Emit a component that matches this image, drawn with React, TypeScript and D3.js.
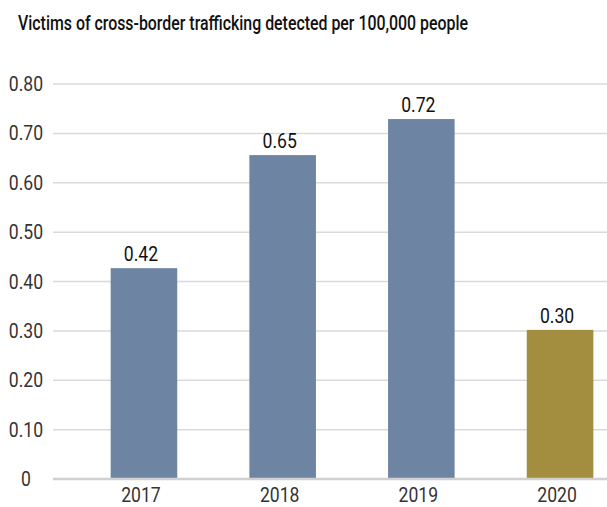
import React, { useLayoutEffect, useRef, useState } from "react";
import * as d3 from "d3";

const categories = ["2017", "2018", "2019", "2020"];
const values = [0.427, 0.656, 0.729, 0.302];
const valueLabels = ["0.42", "0.65", "0.72", "0.30"];
const yTicks = [0, 0.1, 0.2, 0.3, 0.4, 0.5, 0.6, 0.7, 0.8];
const barColors = ["#6e84a3", "#6e84a3", "#6e84a3", "#a38d3f"];
const title = "Victims of cross-border trafficking detected per 100,000 people";

const W = 607;
const H = 507;
const FONT = "Roboto, 'Noto Sans', sans-serif";

function CText({ x, y, anchor = "middle", sx = 0.88, size = 20, fill = "#333", children, weight = 400 }: any) {
  return (
    <text
      transform={`translate(${x},${y}) scale(${sx},1)`}
      textAnchor={anchor}
      fontSize={size}
      fontFamily={FONT}
      fill={fill}
      fontWeight={weight}
    >
      {children}
    </text>
  );
}

export default function App() {
  const titleRef = useRef<SVGTextElement>(null);
  const [titleScale, setTitleScale] = useState(0.75);
  useLayoutEffect(() => {
    if (titleRef.current) {
      const w = titleRef.current.getComputedTextLength();
      if (w > 0) setTitleScale(450 / w);
    }
  }, []);
  const y = d3.scaleLinear().domain([0, 0.8]).range([479, 84]);
  const x = d3.scaleBand<string>().domain(categories).range([74.6, 629.4]).paddingInner(0.52).paddingOuter(0.26);
  const bw = x.bandwidth();
  const fmt = (v: number) => (v === 0 ? "0" : d3.format(".2f")(v));
  return (
    <svg width={W} height={H} style={{ position: "absolute", left: 0, top: 0, background: "#fff" }}>
      <text
        ref={titleRef}
        transform={`translate(18,30) scale(${titleScale},1)`}
        fontSize={21}
        fontWeight={500}
        fontFamily={FONT}
        fill="#111"
      >
        {title}
      </text>
      {yTicks.map((t) => (
        <g key={t}>
          {t !== 0 && (
            <line x1={53} x2={W} y1={y(t)} y2={y(t)} stroke="#dadada" strokeWidth={1.5} />
          )}
          <CText x={26} y={y(t) + 7}>{fmt(t)}</CText>
        </g>
      ))}
      {categories.map((c, i) => (
        <g key={c}>
          <rect x={x(c)!} y={y(values[i])} width={bw} height={y(0) - y(values[i])} fill={barColors[i]} />
          <CText x={x(c)! + bw / 2 - 3} y={y(values[i]) - 7} fill="#111">{valueLabels[i]}</CText>
          <CText x={x(c)! + bw / 2 - 3} y={502}>{c}</CText>
        </g>
      ))}
      <line x1={53} x2={W} y1={y(0)} y2={y(0)} stroke="#d0d0d0" strokeWidth={2.5} />
    </svg>
  );
}
